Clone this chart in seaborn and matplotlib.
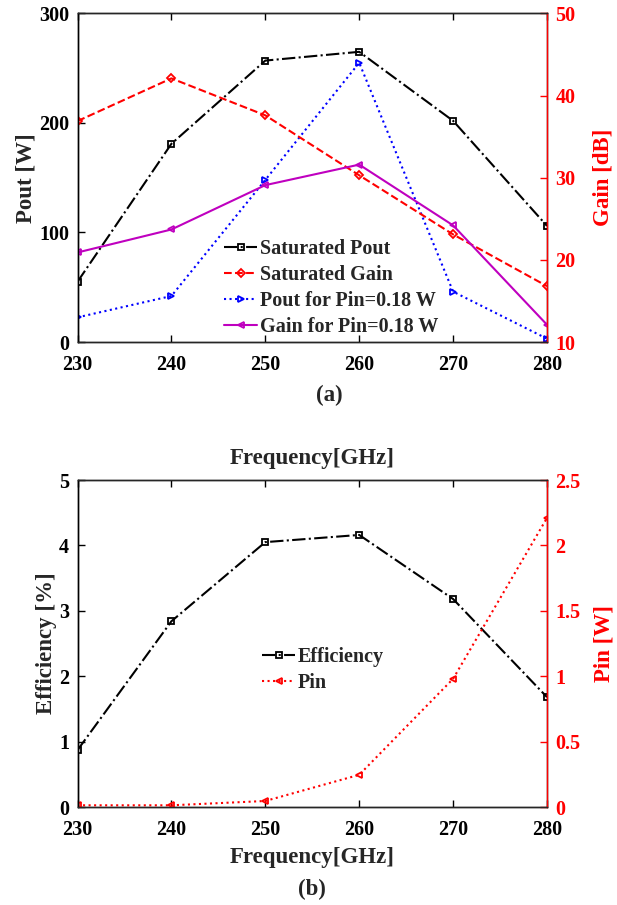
import numpy as np
import matplotlib
matplotlib.use("Agg")
import matplotlib.pyplot as plt
import seaborn as sns

# 数据
freq = [230, 240, 250, 260, 270, 280]
sat_pout = [55, 181, 257, 265, 202, 106]
sat_gain = [36.9, 42.1, 37.6, 30.3, 23.1, 16.8]
pout_018 = [22.5, 42, 148, 255, 46, 3]
gain_018 = [20.9, 23.7, 29.1, 31.6, 24.2, 12.1]
efficiency = [0.87, 2.84, 4.05, 4.16, 3.18, 1.68]
pin = [0.013, 0.013, 0.046, 0.246, 0.98, 2.21]

sns.set_style("ticks")
plt.rcParams['font.family'] = ['Liberation Serif', 'DejaVu Serif']
plt.rcParams['font.weight'] = 'bold'
plt.rcParams['axes.labelweight'] = 'bold'

FS_TICK = 14.5
FS_LABEL = 16.5
W, H = 617, 905

fig = plt.figure(figsize=(W / 100, H / 100), dpi=100)


def fig_rect(x0, y0, x1, y1):
    """像素坐标转为figure坐标"""
    return [x0 / W, 1 - y1 / H, (x1 - x0) / W, (y1 - y0) / H]


ax_a = fig.add_axes(fig_rect(77.5, 13.5, 547, 342))
ax_b = fig.add_axes(fig_rect(77.5, 480, 547, 807))


def line(ax, y, color, ls, marker, label, ms=4.5):
    sns.lineplot(x=freq, y=y, ax=ax, color=color, linestyle=ls, marker=marker,
                 markersize=ms, markerfacecolor='none', markeredgecolor=color,
                 markeredgewidth=1.3, linewidth=1.5, label=label, legend=False)


def style_axes(ax, ax2, ylim, yticks, ylim2, yticks2, ylabel, ylabel2, pad2):
    ax.set_xlim(230, 280)
    ax.set_xticks(freq)
    ax.set_ylim(*ylim)
    ax.set_yticks(yticks)
    ax2.set_ylim(*ylim2)
    ax2.set_yticks(yticks2)
    ax.tick_params(axis='x', direction='in', top=True, length=5, width=1,
                   pad=9, labelsize=FS_TICK, colors='black')
    ax.tick_params(axis='y', direction='in', right=False, length=5, width=1,
                   pad=6, labelsize=FS_TICK, colors='black')
    ax2.tick_params(axis='y', direction='in', length=5, width=1, pad=6,
                    labelsize=FS_TICK, colors='red')
    for s in ax.spines.values():
        s.set_color('black')
        s.set_linewidth(1)
    for s in ax2.spines.values():
        s.set_linewidth(1)
    ax2.spines['right'].set_color('red')
    ax2.spines['left'].set_color('black')
    ax.set_xlabel('')
    ax.set_ylabel(ylabel, fontsize=FS_LABEL, fontweight='bold', labelpad=1.5)
    ax2.set_ylabel(ylabel2, fontsize=FS_LABEL, fontweight='bold', color='red', labelpad=pad2)
    for lab in ax.get_xticklabels() + ax.get_yticklabels() + ax2.get_yticklabels():
        lab.set_fontweight('bold')


LEG_KW = dict(loc='upper left', bbox_transform=fig.transFigure, frameon=False,
              handlelength=1.65, handletextpad=0.12, labelspacing=0.3, borderpad=0,
              borderaxespad=0, prop={'weight': 'bold', 'size': FS_TICK})

# (a)
ax_a2 = ax_a.twinx()
line(ax_a, sat_pout, 'black', '-.', 's', 'Saturated Pout')
line(ax_a2, sat_gain, 'red', '--', 'D', 'Saturated Gain', ms=4)
line(ax_a, pout_018, 'blue', ':', '>', 'Pout for Pin=0.18 W', ms=5)
line(ax_a2, gain_018, 'm', '-', '<', 'Gain for Pin=0.18 W', ms=5)
style_axes(ax_a, ax_a2, (0, 300), [0, 100, 200, 300], (10, 50), [10, 20, 30, 40, 50],
           'Pout [W]', 'Gain [dB]', 12)

h1, l1 = ax_a.get_legend_handles_labels()
h2, l2 = ax_a2.get_legend_handles_labels()
hs = [h1[0], h2[0], h1[1], h2[1]]
labs = [l1[0], l2[0], l1[1], l2[1]]
ax_a2.legend(hs, labs, bbox_to_anchor=(224 / W, 1 - 239 / H), **LEG_KW)

# (b)
ax_b2 = ax_b.twinx()
line(ax_b, efficiency, 'black', '-.', 's', 'Efficiency')
line(ax_b2, pin, 'red', ':', '<', 'Pin', ms=5)
style_axes(ax_b, ax_b2, (0, 5), [0, 1, 2, 3, 4, 5], (0, 2.5), [0, 0.5, 1, 1.5, 2, 2.5],
           'Efficiency [%]', 'Pin [W]', 9)
ax_b2.set_yticklabels(['0', '0.5', '1', '1.5', '2', '2.5'], fontweight='bold')
hb = ax_b.get_legend_handles_labels()
hb2 = ax_b2.get_legend_handles_labels()
ax_b2.legend(hb[0] + hb2[0], hb[1] + hb2[1], bbox_to_anchor=(262 / W, 1 - 647 / H), **LEG_KW)

# 文字标注
fig.text(329 / W, 1 - 395 / H, '(a)', ha='center', va='center', fontsize=FS_LABEL, fontweight='bold')
fig.text(312 / W, 1 - 458 / H, 'Frequency[GHz]', ha='center', va='center', fontsize=FS_LABEL, fontweight='bold')
fig.text(312 / W, 1 - 857 / H, 'Frequency[GHz]', ha='center', va='center', fontsize=FS_LABEL, fontweight='bold')
fig.text(312 / W, 1 - 889 / H, '(b)', ha='center', va='center', fontsize=FS_LABEL, fontweight='bold')

fig.savefig('out.png', dpi=100)
